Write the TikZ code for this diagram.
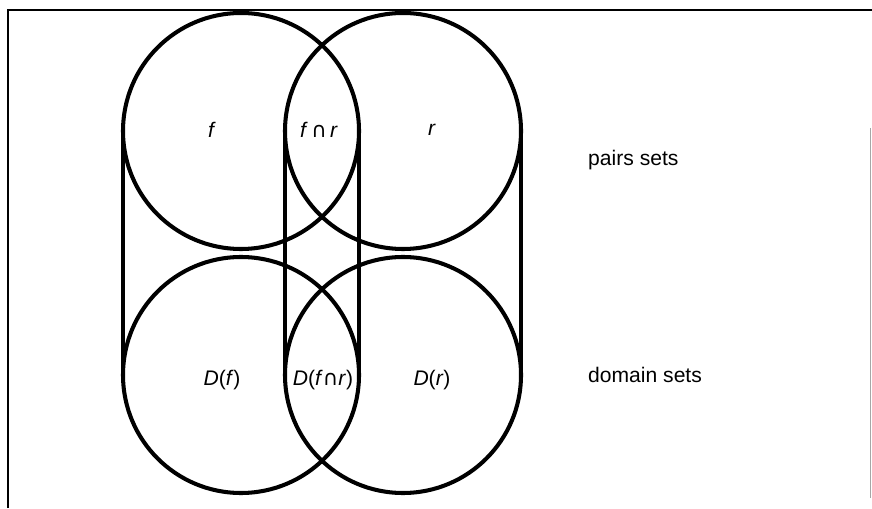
\documentclass[tikz,border=0pt]{standalone}
\usepackage{fontspec}
\setmainfont{Liberation Sans}
\newfontfamily\symfont{DejaVu Sans}
\newcommand{\capsym}{{\symfont ∩}}
\begin{document}
\begin{tikzpicture}[
  set/.style={draw, circle, line width=2.3pt, minimum size=4.72cm, inner sep=0pt, outer sep=0pt},
  lbl/.style={font=\fontsize{12}{14}\selectfont},
  side/.style={font=\fontsize{12}{14}\selectfont, anchor=west}]
\useasboundingbox (0,0) rectangle (17.44,10.16);
% frame
\draw[line width=1.6pt] (0.16,0) -- (0.16,9.96) -- (17.44,9.96);
\draw[line width=0.5pt, black!35] (17.40,7.6) -- (17.40,0.2);
% pairs sets
\node[set] (f) at (4.82,7.54) {};
\node[set] (r) at (8.06,7.54) {};
\path (4.24,7.56) node[lbl]{\textit{f}};
\path (6.38,7.56) node[lbl]{\textit{f}\,\capsym\,\textit{r}};
\path (8.64,7.56) node[lbl]{\textit{r}};
\path (11.64,6.96) node[side]{pairs sets};
% domain sets
\node[set] (Df) at (4.82,2.66) {};
\node[set] (Dr) at (8.06,2.66) {};
\path (4.44,2.56) node[lbl]{\textit{D}(\textit{f})};
\path (6.46,2.56) node[lbl]{\textit{D}(\textit{f}\capsym\textit{r})};
\path (8.64,2.56) node[lbl]{\textit{D}(\textit{r})};
\path (11.64,2.66) node[side]{domain sets};
% cylinders
\draw[line width=1.8pt] (f.west) -- (Df.west);
\draw[line width=1.8pt] (f.east) -- (Df.east);
\draw[line width=1.8pt] (r.west) -- (Dr.west);
\draw[line width=1.8pt] (r.east) -- (Dr.east);
\end{tikzpicture}
\end{document}
